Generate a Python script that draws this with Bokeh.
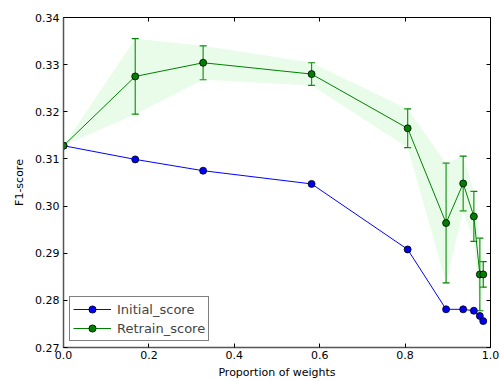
from bokeh.plotting import figure
from bokeh.models import (ColumnDataSource, Whisker, TeeHead, LinearAxis, FixedTicker,
                          PrintfTickFormatter, Legend, LegendItem, Range1d)
from bokeh.embed import file_html
from bokeh.resources import INLINE

# data
proportion = [0.0, 0.168, 0.327, 0.581, 0.806, 0.896, 0.936, 0.961, 0.975, 0.983]
initial_score = [0.3128, 0.3099, 0.3075, 0.3047, 0.2908, 0.2781, 0.2781, 0.2778, 0.2767, 0.2756]
retrain_score = [0.3128, 0.3275, 0.3304, 0.3280, 0.3165, 0.2964, 0.3048, 0.2978, 0.2855, 0.2855]
retrain_err = [0.0, 0.0080, 0.0036, 0.0024, 0.0041, 0.0127, 0.0058, 0.0053, 0.0077, 0.0027]
x_ticks = [0.0, 0.2, 0.4, 0.6, 0.8, 1.0]
y_ticks = [0.27, 0.28, 0.29, 0.30, 0.31, 0.32, 0.33, 0.34]

FONT = "DejaVu Sans"

lower = [m - e for m, e in zip(retrain_score, retrain_err)]
upper = [m + e for m, e in zip(retrain_score, retrain_err)]
src_r = ColumnDataSource(dict(x=proportion, y=retrain_score, lo=lower, hi=upper))
src_i = ColumnDataSource(dict(x=proportion, y=initial_score))

p = figure(width=500, height=381, output_backend="svg", toolbar_location=None,
           x_range=Range1d(0, 1), y_range=Range1d(0.27, 0.34),
           min_border_left=63, min_border_right=10, min_border_top=17, min_border_bottom=34)
p.grid.visible = False
p.outline_line_color = "#000000"
p.background_fill_color = "white"
p.border_fill_color = "white"

# shaded band
p.varea(x="x", y1="lo", y2="hi", source=src_r, fill_color="#90ee90", fill_alpha=0.2)

# initial
l_i = p.line("x", "y", source=src_i, line_color="#0000ff", line_width=1)
s_i = p.scatter("x", "y", source=src_i, size=7, fill_color="#0000ff", line_color="#000000", line_width=0.8)

# retrain
l_r = p.line("x", "y", source=src_r, line_color="#008000", line_width=1)
w = Whisker(base="x", lower="lo", upper="hi", source=src_r, line_color="#008000", line_width=1.2,
            upper_head=TeeHead(size=7, line_color="#008000", line_width=1.2),
            lower_head=TeeHead(size=7, line_color="#008000", line_width=1.2))
p.add_layout(w)
s_r = p.scatter("x", "y", source=src_r, size=7, fill_color="#008000", line_color="#000000", line_width=0.8)

# axes
for ax in (p.xaxis[0], p.yaxis[0]):
    ax.major_tick_in = 4
    ax.major_tick_out = 0
    ax.minor_tick_in = 0
    ax.minor_tick_out = 0
    ax.axis_line_color = "#555555"
    ax.axis_line_width = 1.5
    ax.major_tick_line_color = "#000000"
    ax.major_label_text_font = FONT
    ax.major_label_text_font_size = "11px"
    ax.major_label_text_color = "#000000"
    ax.axis_label_text_font = FONT
    ax.axis_label_text_font_size = "11px"
    ax.axis_label_text_font_style = "normal"
    ax.axis_label_text_color = "#000000"
p.xaxis[0].ticker = FixedTicker(ticks=x_ticks)
p.xaxis[0].formatter = PrintfTickFormatter(format="%.1f")
p.yaxis[0].ticker = FixedTicker(ticks=y_ticks)
p.yaxis[0].formatter = PrintfTickFormatter(format="%.2f")
p.xaxis[0].axis_label = "Proportion of weights"
p.yaxis[0].axis_label = "F1-score"
p.xaxis[0].major_label_standoff = 3
p.xaxis[0].axis_label_standoff = 4
p.yaxis[0].major_label_standoff = 4
p.yaxis[0].axis_label_standoff = 6

for loc, ticks in (("right", y_ticks), ("above", x_ticks)):
    ax = LinearAxis(ticker=FixedTicker(ticks=ticks), major_label_text_font_size="1px",
                    major_label_text_color=None,
                    major_tick_in=4, major_tick_out=0, minor_tick_in=0, minor_tick_out=0,
                    axis_line_color="#000000", major_label_standoff=0)
    p.add_layout(ax, loc)

legend = Legend(items=[LegendItem(label="Initial_score", renderers=[l_i, s_i]),
                       LegendItem(label="Retrain_score", renderers=[l_r, s_r])],
                location="bottom_left", label_text_font=FONT, label_text_font_size="13px",
                border_line_color="#000000", border_line_width=1, glyph_width=38,
                glyph_height=18, label_height=18,
                padding=3, spacing=1, margin=6, label_standoff=6)
p.add_layout(legend)

open("out.html", "w").write(file_html(p, INLINE))
